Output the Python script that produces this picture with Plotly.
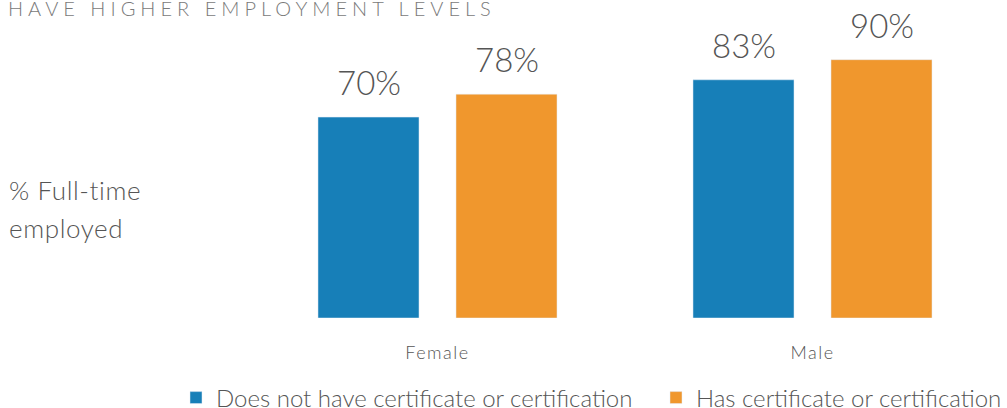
import plotly.graph_objects as go

categories = ["Female", "Male"]
no_cert = [70, 83]
has_cert = [78, 90]
series_names = ["Does not have certificate or certification", "Has certificate or certification"]
title_text = "HAVE HIGHER EMPLOYMENT LEVELS"
ylabel_lines = ["% Full-time", "employed"]

BLUE = "#177fb8"
ORANGE = "#f0972d"
GRAY = "#555555"
FONT = "Lato"

fig = go.Figure()
fig.add_trace(go.Bar(x=categories, y=no_cert, name=series_names[0], marker_color=BLUE))
fig.add_trace(go.Bar(x=categories, y=has_cert, name=series_names[1], marker_color=ORANGE))


def py(px):
    return (318 - px) / 288


def pxx(px):
    return (px - 250) / 750


annotations = []
for vals, shift in [(no_cert, -69), (has_cert, 69)]:
    for c, v in zip(categories, vals):
        annotations.append(dict(x=c, y=v, xref="x", yref="y", text=f"{v}%", showarrow=False,
                                yanchor="bottom", xshift=shift, yshift=13,
                                font=dict(size=33, color=GRAY, family=FONT, weight=300)))
for line, ypx in zip(ylabel_lines, [190, 228]):
    annotations.append(dict(x=pxx(7), y=py(ypx), xref="paper", yref="paper", xanchor="left",
                            yanchor="middle", align="left", showarrow=False,
                            text=f'<span style="letter-spacing:0.6px">{line}</span>',
                            font=dict(size=26, color=GRAY, family=FONT, weight=300)))
annotations.append(dict(x=pxx(6), y=py(22), xref="paper", yref="paper", xanchor="left",
                        yanchor="bottom", align="left", showarrow=False,
                        text=f'<span style="letter-spacing:5px">{title_text}</span>',
                        font=dict(size=20, color="#7a7a7a", family=FONT, weight=300)))

fig.update_layout(
    width=1007, height=408,
    margin=dict(l=250, r=7, t=30, b=90, autoexpand=False),
    paper_bgcolor="white", plot_bgcolor="white",
    barmode="group", bargap=0.264, bargroupgap=0.268,
    showlegend=True,
    legend=dict(orientation="h", x=pxx(176), xanchor="left",
                y=py(398), yanchor="middle", entrywidth=435, entrywidthmode="pixels",
                font=dict(size=24, color=GRAY, family=FONT, weight=300), itemclick=False,
                bgcolor="rgba(0,0,0,0)", tracegroupgap=0),
    xaxis=dict(showline=False, showgrid=False, zeroline=False, ticks="outside", ticklen=18,
               tickcolor="rgba(0,0,0,0)", tickmode="array", tickvals=categories,
               ticktext=[f'<span style="letter-spacing:1.5px">{c}</span>' for c in categories],
               tickfont=dict(size=18, color=GRAY, family=FONT, weight=300)),
    yaxis=dict(range=[0, 100.35], visible=False),
    annotations=annotations,
)

fig.write_html("out.html", config={"displayModeBar": False},
               post_script="document.body.style.margin='0';")
